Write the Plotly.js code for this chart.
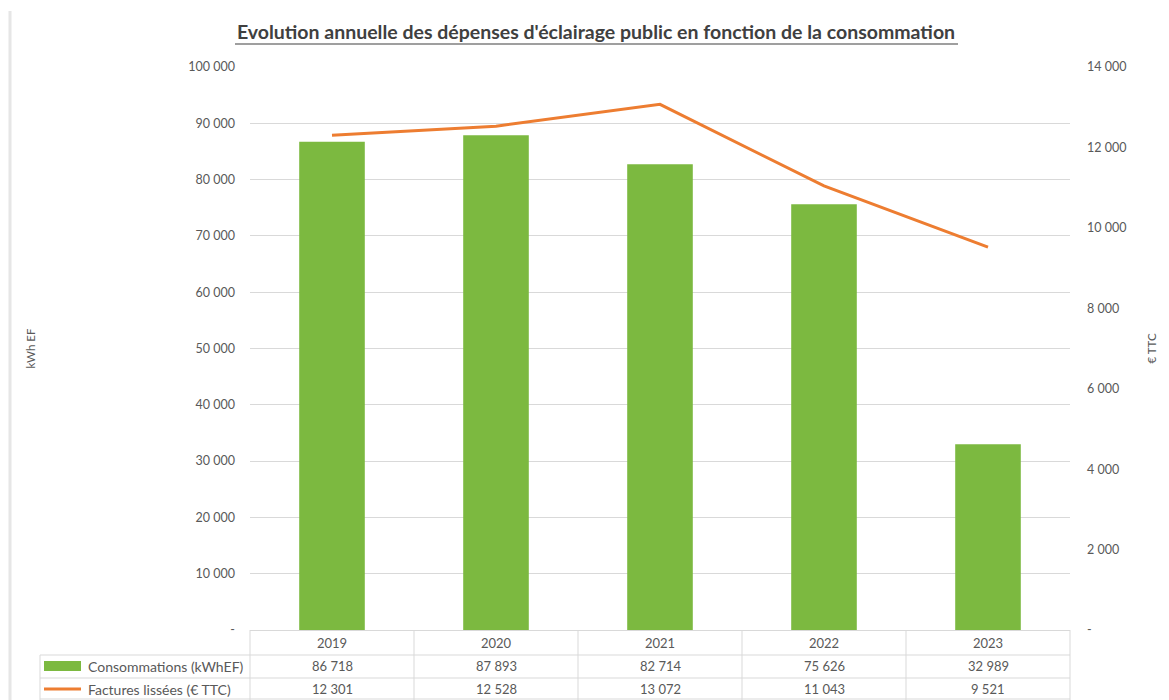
<!DOCTYPE html>
<html>
<head>
<meta charset="utf-8">
<script src="https://cdn.plot.ly/plotly-3.0.1.min.js"></script>
<style>html,body{margin:0;padding:0;background:#fff;}#chart{width:1169px;height:700px;}</style>
</head>
<body>
<div id="chart"></div>
<script>
const years = ["2019", "2020", "2021", "2022", "2023"];
const consommations = [86718, 87893, 82714, 75626, 32989];
const factures = [12301, 12528, 13072, 11043, 9521];
const seriesNames = ["Consommations (kWhEF)", "Factures lissées (€ TTC)"];
const leftTicks = [0, 10000, 20000, 30000, 40000, 50000, 60000, 70000, 80000, 90000, 100000];
const rightTicks = [0, 2000, 4000, 6000, 8000, 10000, 12000, 14000];

const W = 1169, H = 700;
const L = 250, R = 1070, T = 67, B = 630;
const px = x => (x - L) / (R - L);
const py = y => (B - y) / (B - T);
const fmt = v => v === 0 ? "-" : String(v).replace(/\B(?=(\d{3})+(?!\d))/g, " ");

const grey = "#595959";
const lineC = "#d9d9d9";
const font = "Lato, 'Open Sans', sans-serif";
const tf = {size: 12.5, color: grey, family: font};
const tableF = {size: 13, color: grey, family: font};
const legF = {size: 14, color: grey, family: font};

const traces = [
  {type: "bar", x: years, y: consommations, name: seriesNames[0],
   marker: {color: "#7CB940"}, width: 0.4, yaxis: "y", hoverinfo: "x+y"},
  {type: "scatter", mode: "lines", x: years, y: factures, name: seriesNames[1],
   line: {color: "#ED7D31", width: 3}, yaxis: "y2"}
];

const shapes = [];
const annotations = [];
// table horizontal lines
[655, 678, 699].forEach(y => shapes.push({type: "line", xref: "paper", yref: "paper",
  x0: px(40), x1: px(1070), y0: py(y), y1: py(y), line: {color: lineC, width: 1}}));
// vertical lines
for (let i = 0; i <= years.length; i++) {
  const xx = L + i * (R - L) / years.length;
  shapes.push({type: "line", xref: "paper", yref: "paper", x0: px(xx), x1: px(xx),
    y0: py(630), y1: py(700), line: {color: lineC, width: 1}});
}
shapes.push({type: "line", xref: "paper", yref: "paper", x0: px(40), x1: px(40),
  y0: py(655), y1: py(700), line: {color: lineC, width: 1}});
// legend keys
shapes.push({type: "rect", xref: "paper", yref: "paper", x0: px(44), x1: px(81),
  y0: py(661), y1: py(671), fillcolor: "#7CB940", line: {width: 0}});
shapes.push({type: "line", xref: "paper", yref: "paper", x0: px(44), x1: px(81),
  y0: py(689), y1: py(689), line: {color: "#ED7D31", width: 3}});
// title underline
shapes.push({type: "line", xref: "paper", yref: "paper", x0: px(235), x1: px(958),
  y0: py(44), y1: py(44), line: {color: "#404040", width: 1.2}});
// outer frame left edge
shapes.push({type: "line", xref: "paper", yref: "paper", x0: px(10), x1: px(10),
  y0: py(11), y1: py(700), line: {color: "#e6e6e6", width: 3}});

years.forEach((yr, i) => {
  annotations.push({x: i, xref: "x", y: py(643), yref: "paper", yanchor: "middle", text: yr, showarrow: false, font: tableF});
  annotations.push({x: i, xref: "x", y: py(666), yref: "paper", yanchor: "middle", text: fmt(consommations[i]), showarrow: false, font: tableF});
  annotations.push({x: i, xref: "x", y: py(689), yref: "paper", yanchor: "middle", text: fmt(factures[i]), showarrow: false, font: tableF});
});
annotations.push({x: px(86), xref: "paper", xanchor: "left", y: py(666), yref: "paper", yanchor: "middle",
  text: seriesNames[0], showarrow: false, font: legF});
annotations.push({x: px(86), xref: "paper", xanchor: "left", y: py(689), yref: "paper", yanchor: "middle",
  text: seriesNames[1], showarrow: false, font: legF});

const layout = {
  width: W, height: H,
  margin: {l: L, r: W - R, t: T, b: H - B, autoexpand: false},
  paper_bgcolor: "#fff", plot_bgcolor: "#fff",
  showlegend: false,
  separators: ", ",
  font: {family: font, color: grey, size: 12},
  title: {text: "<b>Evolution annuelle des dépenses d'éclairage public en fonction de la consommation</b>",
    font: {size: 19.5, color: "#404040", family: font}, x: 596 / W, xanchor: "center", xref: "container",
    y: 1 - 32 / H, yanchor: "middle"},
  xaxis: {type: "category", showticklabels: false, showgrid: false, zeroline: false,
    showline: false, ticks: "", range: [-0.5, 4.5]},
  yaxis: {range: [0, 100000], tickmode: "array", tickvals: leftTicks, ticktext: leftTicks.map(fmt),
    showgrid: true, gridcolor: lineC, gridwidth: 1, zeroline: true, zerolinecolor: lineC,
    showline: false, ticks: "", ticklabelstandoff: 14, tickfont: tf,
    title: {text: "kWh EF", font: {size: 11.5, color: grey, family: font}, standoff: 150}},
  yaxis2: {range: [0, 14000], overlaying: "y", side: "right", tickmode: "array", tickvals: rightTicks,
    ticktext: rightTicks.map(fmt), showgrid: false, zeroline: false, showline: false, ticks: "",
    ticklabelstandoff: 16, tickfont: tf,
    title: {text: "€ TTC", font: {size: 11.5, color: grey, family: font}, standoff: 22}},
  shapes: shapes,
  annotations: annotations
};

Plotly.newPlot("chart", traces, layout, {displayModeBar: false, staticPlot: true});
</script>
</body>
</html>
